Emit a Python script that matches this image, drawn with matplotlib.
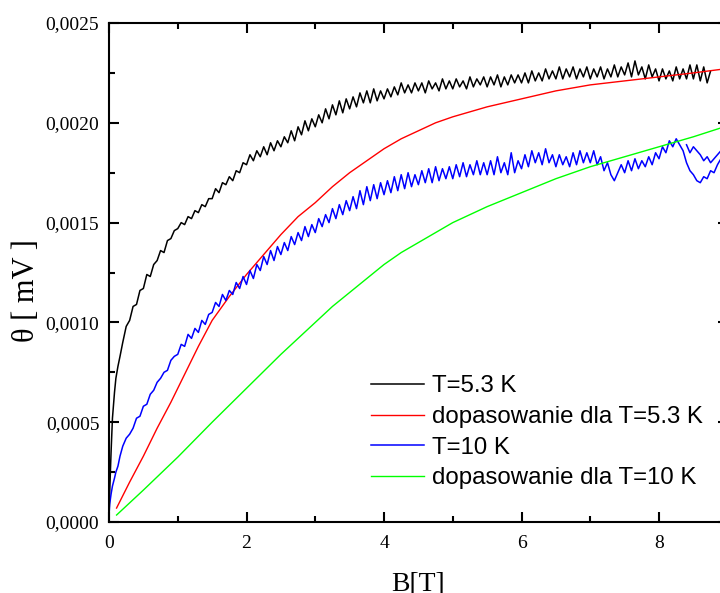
import numpy as np
import matplotlib
matplotlib.use("Agg")
import matplotlib.pyplot as plt
from matplotlib.ticker import FuncFormatter, MultipleLocator

# ---------- dane (theta w jednostkach 1e-4 mV) ----------
# T = 5.3 K, poczatek krzywej (gesciej przy B ~ 0)
B_53_start = [0.0, 0.01, 0.03, 0.05, 0.08, 0.1, 0.13, 0.16, 0.2, 0.25, 0.3, 0.35,
              0.4, 0.45, 0.5, 0.55, 0.6, 0.65, 0.7, 0.75, 0.8, 0.85, 0.9, 0.95]
th_53_start = [0.3, 1.5, 3.5, 5.2, 6.5, 7.2, 7.8, 8.3, 9.0, 9.8, 10.1, 10.8,
               10.9, 11.6, 11.7, 12.4, 12.3, 12.9, 13.1, 13.6, 13.5, 14.1, 14.2, 14.6]
# T = 5.3 K, B = 1.00 ... 8.75 co 0.05 T
B_53_main = np.linspace(1.0, 8.75, 156)
th_53_main = [
    14.7, 15.0, 14.9, 15.3, 15.2, 15.6, 15.5, 15.9, 15.8, 16.2,
    16.2, 16.7, 16.5, 17.0, 16.9, 17.3, 17.1, 17.6, 17.5, 18.0,
    17.9, 18.4, 18.1, 18.6, 18.3, 18.8, 18.4, 19.0, 18.6, 19.1,
    18.8, 19.3, 19.0, 19.6, 19.1, 19.8, 19.4, 20.1, 19.6, 20.2,
    19.8, 20.4, 20.0, 20.7, 20.2, 20.9, 20.4, 21.1, 20.5, 21.2,
    20.7, 21.3, 20.8, 21.5, 21.0, 21.6, 21.0, 21.7, 21.1, 21.6,
    21.2, 21.7, 21.3, 21.8, 21.4, 22.0, 21.5, 21.9, 21.5, 22.0,
    21.6, 22.0, 21.5, 22.1, 21.7, 22.0, 21.6, 22.2, 21.7, 22.1,
    21.7, 22.2, 21.8, 22.1, 21.7, 22.3, 21.8, 22.2, 21.9, 22.3,
    21.8, 22.3, 21.9, 22.4, 21.8, 22.3, 21.9, 22.4, 22.0, 22.4,
    22.0, 22.5, 22.0, 22.6, 22.1, 22.5, 22.1, 22.7, 22.2, 22.6,
    22.2, 22.8, 22.2, 22.7, 22.3, 22.8, 22.2, 22.7, 22.3, 22.8,
    22.2, 22.7, 22.3, 22.8, 22.2, 22.7, 22.3, 22.9, 22.3, 22.8,
    22.4, 23.0, 22.3, 23.1, 22.4, 22.8, 22.2, 22.9, 22.3, 22.7,
    22.1, 22.7, 22.2, 22.6, 22.1, 22.8, 22.2, 22.7, 22.2, 22.9,
    22.2, 22.9, 22.1, 22.8, 22.0, 22.6,
]

# T = 10 K
B_10_start = B_53_start
th_10_start = [0.3, 0.9, 1.4, 1.8, 2.2, 2.5, 2.8, 3.3, 3.8, 4.2, 4.4, 4.7,
               5.2, 5.3, 5.8, 5.9, 6.4, 6.6, 7.0, 7.2, 7.5, 7.6, 8.1, 8.3]
# B = 1.00 ... 8.30 co 0.05 T
B_10_main = np.linspace(1.0, 8.3, 147)
th_10_main = [
    8.4, 8.9, 8.8, 9.4, 9.2, 9.7, 9.5, 10.1, 9.9, 10.4,
    10.5, 11.0, 10.8, 11.4, 11.1, 11.6, 11.4, 12.0, 11.7, 12.3,
    11.9, 12.6, 12.2, 12.9, 12.6, 13.3, 12.9, 13.6, 13.1, 13.8,
    13.4, 14.0, 13.6, 14.3, 13.9, 14.5, 14.1, 14.8, 14.3, 14.9,
    14.5, 15.2, 14.8, 15.4, 15.0, 15.7, 15.2, 15.9, 15.4, 16.1,
    15.6, 16.3, 15.7, 16.6, 15.9, 16.8, 16.1, 16.9, 16.2, 17.0,
    16.4, 17.1, 16.5, 17.3, 16.6, 17.4, 16.7, 17.5, 16.8, 17.4,
    16.9, 17.6, 17.0, 17.7, 17.0, 17.8, 17.1, 17.7, 17.2, 17.8,
    17.2, 17.9, 17.3, 18.0, 17.3, 17.9, 17.4, 18.1, 17.4, 18.0,
    17.4, 18.1, 17.4, 18.3, 17.5, 18.0, 17.4, 18.5, 17.5, 18.1,
    17.7, 18.4, 17.8, 18.6, 18.0, 18.5, 17.9, 18.7, 18.0, 18.4,
    17.8, 18.4, 17.9, 18.3, 17.8, 18.5, 17.9, 18.6, 18.0, 18.5,
    18.0, 18.6, 17.9, 18.3, 17.6, 18.0, 17.4, 17.1, 17.5, 17.9,
    17.5, 18.1, 17.6, 18.2, 17.7, 18.1, 17.8, 18.3, 17.9, 18.5,
    18.2, 18.8, 18.5, 19.1, 18.8, 19.2, 18.9,
]
# petla przy najwyzszych polach (tam i z powrotem)
B_10_loop = [8.35, 8.4, 8.45, 8.5, 8.55, 8.6, 8.65, 8.7, 8.75, 8.8, 8.85, 8.9,
             8.9, 8.85, 8.8, 8.75, 8.7, 8.65, 8.6, 8.55, 8.5, 8.45, 8.4]
th_10_loop = [18.6, 18.0, 17.6, 17.4, 17.1, 17.0, 17.3, 17.2, 17.6, 17.5, 17.9, 18.2,
              18.6, 18.4, 18.2, 18.0, 18.3, 18.1, 18.4, 18.6, 18.8, 18.5, 18.9]

# dopasowania (gladkie krzywe)
B_fit53 = [0.11, 0.3, 0.5, 0.7, 0.9, 1.1, 1.3, 1.5, 1.75, 2.0, 2.25, 2.5, 2.75, 3.0,
           3.25, 3.5, 3.75, 4.0, 4.25, 4.5, 4.75, 5.0, 5.5, 6.0, 6.5, 7.0, 7.5, 8.0,
           8.5, 8.95]
th_fit53 = [0.7, 2.0, 3.3, 4.7, 6.0, 7.4, 8.8, 10.1, 11.3, 12.4, 13.4, 14.4, 15.3, 16.0,
            16.8, 17.5, 18.1, 18.7, 19.2, 19.6, 20.0, 20.3, 20.8, 21.2, 21.6, 21.9,
            22.1, 22.3, 22.5, 22.7]
B_fit10 = [0.11, 0.5, 1.0, 1.5, 2.0, 2.5, 3.0, 3.25, 3.5, 3.75, 4.0, 4.25, 4.5, 4.75,
           5.0, 5.5, 6.0, 6.5, 7.0, 7.5, 8.0, 8.5, 8.95]
th_fit10 = [0.35, 1.6, 3.25, 5.0, 6.7, 8.4, 10.0, 10.8, 11.5, 12.2, 12.9, 13.5, 14.0,
            14.5, 15.0, 15.8, 16.5, 17.2, 17.8, 18.3, 18.8, 19.3, 19.8]

labels = ["T=5.3 K", "dopasowanie dla T=5.3 K", "T=10 K", "dopasowanie dla T=10 K"]

SCALE = 1e-4
B_53 = np.concatenate([B_53_start, B_53_main])
th_53 = np.concatenate([th_53_start, th_53_main]) * SCALE
B_10 = np.concatenate([B_10_start, B_10_main, B_10_loop])
th_10 = np.concatenate([th_10_start, th_10_main, th_10_loop]) * SCALE

# ---------- wykres ----------
plt.rcParams['font.family'] = ['Liberation Serif', 'DejaVu Serif']

fig = plt.figure(figsize=(7.2, 5.93), dpi=100)
ax = fig.add_axes([0.1514, 0.1197, 0.8594, 0.8415])

ax.plot(B_53, th_53, color='black', lw=1.1, label=labels[0])
ax.plot(B_fit53, np.array(th_fit53) * SCALE, color='#ff0000', lw=1.0, label=labels[1])
ax.plot(B_10, th_10, color='#0000ff', lw=1.1, label=labels[2])
ax.plot(B_fit10, np.array(th_fit10) * SCALE, color='#00ff00', lw=1.0, label=labels[3])

ax.set_xlim(0, 9)
ax.set_ylim(0, 0.0025)
ax.xaxis.set_major_locator(MultipleLocator(2))
ax.xaxis.set_minor_locator(MultipleLocator(1))
ax.yaxis.set_major_locator(MultipleLocator(0.0005))
ax.yaxis.set_minor_locator(MultipleLocator(0.00025))
ax.yaxis.set_major_formatter(FuncFormatter(lambda v, p: f"{v:.4f}".replace('.', ',')))
ax.xaxis.set_major_formatter(FuncFormatter(lambda v, p: f"{v:.0f}"))

for s in ax.spines.values():
    s.set_linewidth(1.5)
ax.tick_params(which='both', direction='in', top=True, right=True, width=1.5)
ax.tick_params(which='major', length=7.5, labelsize=14)
ax.tick_params(which='minor', length=4)
ax.tick_params(axis='y', pad=7)
ax.tick_params(axis='x', pad=9.5)

ax.set_xlabel("B[T]", fontsize=20, labelpad=14)
ax.set_ylabel("θ [ mV ]", fontsize=22)
ax.yaxis.set_label_coords(-0.110, 0.463)

leg = ax.legend(loc='upper left', bbox_to_anchor=(0.515, 0.367),
                bbox_transform=fig.transFigure, frameon=False,
                prop={'family': 'Liberation Sans', 'size': 17.3},
                handlelength=2.2, handletextpad=0.35, labelspacing=0.36,
                borderpad=0, borderaxespad=0)

fig.savefig("out.png", dpi=100)
